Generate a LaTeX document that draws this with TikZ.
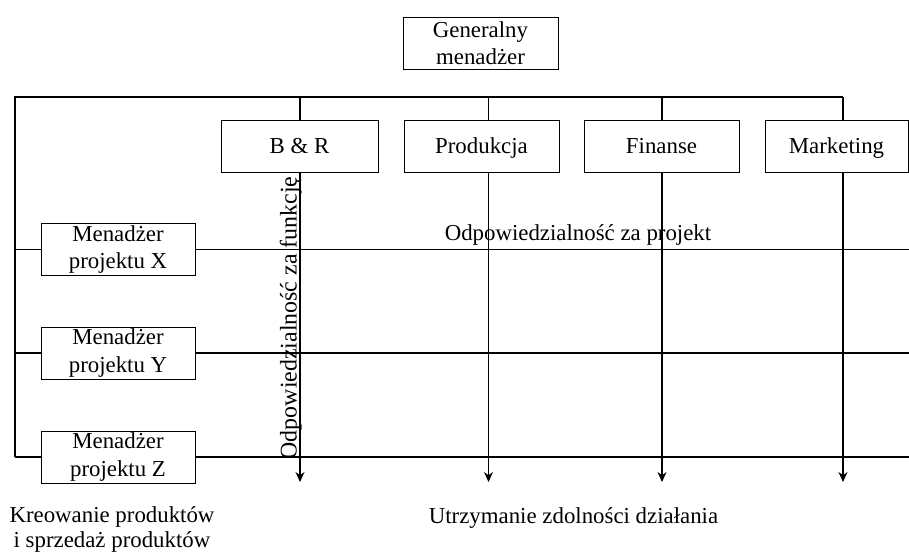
\documentclass[tikz,border=0pt]{standalone}
\usepackage{fontspec}
\setmainfont{Liberation Serif}
\usetikzlibrary{arrows.meta}
\tikzset{bx/.append style={minimum width=3.1cm, minimum height=1.04cm, draw, inner sep=0pt, align=center, font=\fontsize{13}{15.4}\selectfont}}
\tikzset{bxs/.append style={bx, text height=9.2pt, text depth=0.8pt}}
\tikzset{ln/.append style={line width=0.6pt}}
\tikzset{arr/.append style={line width=0.6pt, -{Stealth[length=2mm,width=1.8mm]}}}
\tikzset{lb/.append style={inner sep=0pt, font=\fontsize{13}{13.8}\selectfont}}

\begin{document}
\begin{tikzpicture}
                \useasboundingbox (0,0) rectangle (18.18,-11.14);
                % boxes
                \node[bx] (gm) at (9.61,-0.86) {Generalny\\menadżer};
                \node[bxs, minimum width=3.14cm] (br) at (5.99,-2.92) {B \& R};
                \node[bxs] (prod) at (9.63,-2.92) {Produkcja};
                \node[bxs] (fin) at (13.23,-2.92) {Finanse};
                \node[bxs, minimum width=2.86cm] (mkt) at (16.73,-2.92) {Marketing};
                \node[bx, minimum width=3.08cm] (mx) at (2.36,-4.99) {Menadżer\\projektu X};
                \node[bx, minimum width=3.08cm] (my) at (2.36,-7.06) {Menadżer\\projektu Y};
                \node[bx, minimum width=3.08cm] (mz) at (2.36,-9.14) {Menadżer\\projektu Z};
                % ends
                \coordinate (tl) at (0.3,-1.94);
                \coordinate (re) at (18.18,-1.94);
                \coordinate (be) at (6.0,-9.64);
                \coordinate (pe) at (9.77,-9.64);
                \coordinate (fe) at (13.24,-9.64);
                \coordinate (me) at (16.86,-9.64);
                % lines
                \draw[ln] (tl |- mz) -- (tl) -- (me |- tl);
                \draw[ln] (be |- tl) -- (be |- br.north);
                \draw[ln] (pe |- tl) -- (pe |- prod.north);
                \draw[ln] (fe |- tl) -- (fe |- fin.north);
                \draw[ln] (me |- tl) -- (me |- mkt.north);
                \draw[arr] (be |- br.south) -- (be);
                \draw[arr] (pe |- prod.south) -- (pe);
                \draw[arr] (fe |- fin.south) -- (fe);
                \draw[arr] (me |- mkt.south) -- (me);
                \path (tl |- mx) edge[ln] (mx.west) (mx.east) edge[ln] (re |- mx);
                \path (tl |- my) edge[ln] (my.west) (my.east) edge[ln] (re |- my);
                \path (tl |- mz) edge[ln] (mz.west) (mz.east) edge[ln] (re |- mz);
                % labels
                \node[lb, anchor=base] (op) at (11.56,-4.8) {Odpowiedzialność za projekt};
                \node[lb, anchor=base, rotate=90, font=\fontsize{13.6}{14}\selectfont] (of) at (5.93,-6.36) {Odpowiedzialność za funkcję};
                \node[lb, anchor=base] (uz) at (11.47,-10.46) {Utrzymanie zdolności działania};
                \node[lb, anchor=base, align=center] (kr) at (2.24,-10.94) {Kreowanie produktów\\i sprzedaż produktów};
            \end{tikzpicture}
\end{document}
